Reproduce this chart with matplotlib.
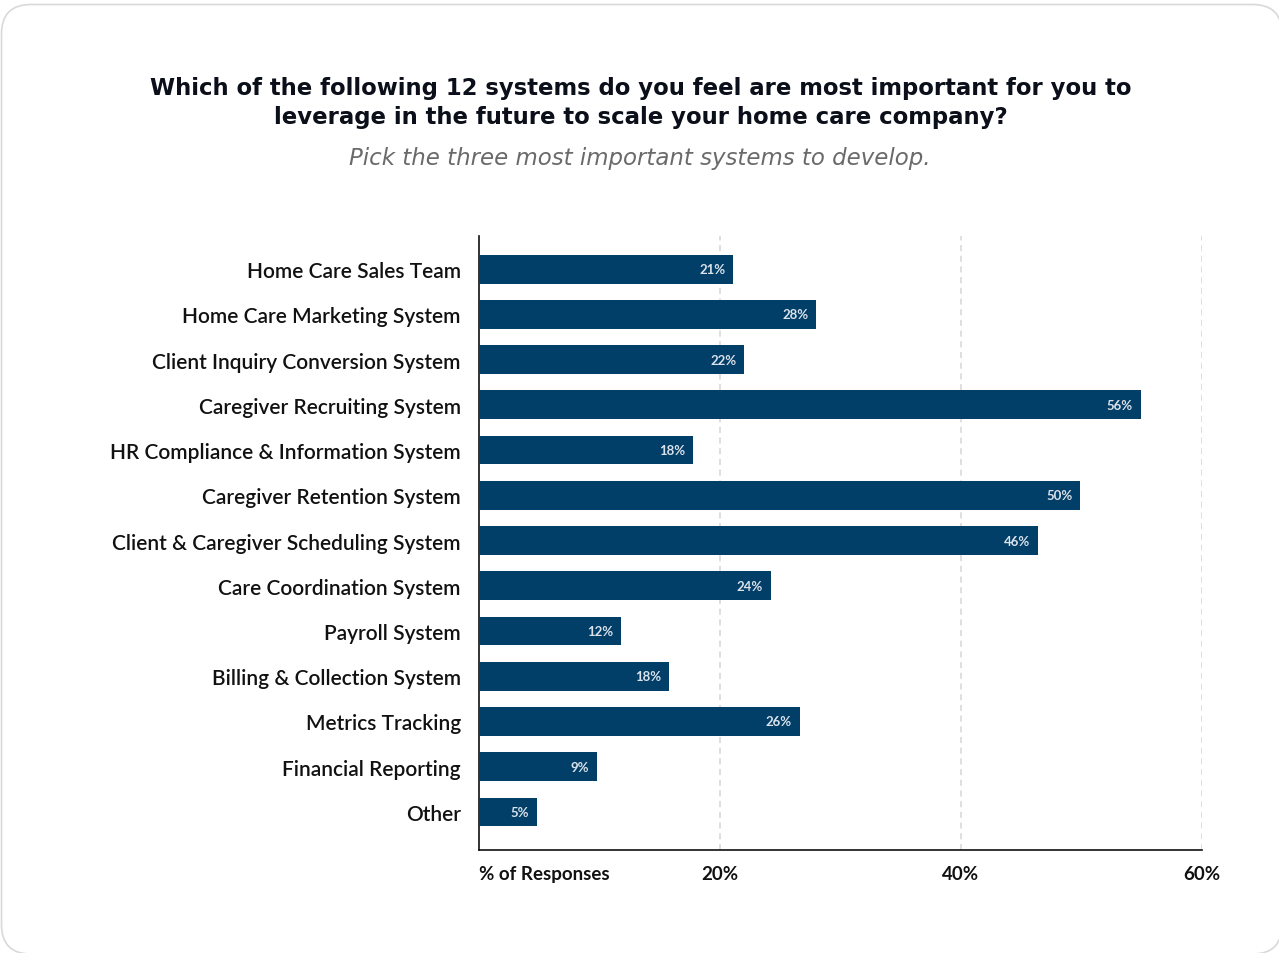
import matplotlib
matplotlib.use("Agg")
import matplotlib.pyplot as plt
from matplotlib.patches import FancyBboxPatch

categories = [
    "Home Care Sales Team",
    "Home Care Marketing System",
    "Client Inquiry Conversion System",
    "Caregiver Recruiting System",
    "HR Compliance & Information System",
    "Caregiver Retention System",
    "Client & Caregiver Scheduling System",
    "Care Coordination System",
    "Payroll System",
    "Billing & Collection System",
    "Metrics Tracking",
    "Financial Reporting",
    "Other",
]
values = [21.1, 28.0, 22.0, 54.9, 17.8, 49.9, 46.4, 24.2, 11.8, 15.8, 26.6, 9.8, 4.8]
value_labels = ["21%", "28%", "22%", "56%", "18%", "50%", "46%", "24%", "12%", "18%", "26%", "9%", "5%"]
x_ticks = [0, 20, 40, 60]
x_tick_labels = ["% of Responses", "20%", "40%", "60%"]

title = ("Which of the following 12 systems do you feel are most important for you to\n"
         "leverage in the future to scale your home care company?")
subtitle = "Pick the three most important systems to develop."

W, H = 1279, 954
fig = plt.figure(figsize=(W / 100, H / 100), dpi=100)
fig.patch.set_facecolor("white")

# rounded card frame (right and bottom edges run off the image)
card = FancyBboxPatch((1.5 / W, -1 / H), (1282 - 1.5) / W, (H - 4.5) / H,
                      boxstyle="round,pad=0,rounding_size=0.023",
                      transform=fig.transFigure, facecolor="white",
                      edgecolor="#d9d9d9", linewidth=1.2, mutation_aspect=W / H,
                      zorder=-5)
fig.patches.append(card)

left, right = 479 / W, 1202 / W
top, bottom = 1 - 237 / H, 1 - 851 / H
ax = fig.add_axes([left, bottom, right - left, top - bottom])
ax.set_facecolor("none")

bar_color = "#013E68"
ypos = list(range(len(categories)))
bars = ax.barh(ypos, values, height=0.64, color=bar_color, zorder=3)
for b, lab in zip(bars, value_labels):
    ax.text(b.get_width() - 0.65, b.get_y() + b.get_height() / 2, lab,
            ha="right", va="center", color="#dbe2ea", fontsize=9.5,
            fontweight="bold", family="Lato", zorder=4)

ax.set_xlim(0, 60)
ax.set_ylim(12.84, -0.73)
ax.set_yticks(ypos)
ax.set_yticklabels(categories, fontsize=15.0, family="Lato", fontweight="semibold",
                   color="#111111")
ax.tick_params(axis="y", length=0, pad=13)
ax.set_xticks(x_ticks)
ax.set_xticklabels(x_tick_labels, fontsize=13.5, family="Lato", fontweight="bold",
                   color="#111111")
ax.tick_params(axis="x", length=0, pad=11)
xl = ax.get_xticklabels()
xl[0].set_ha("left")
xl[-1].set_ha("center")

for x in x_ticks[1:]:
    ax.axvline(x, color="#d6d6d6", linestyle=(0, (4, 3)), linewidth=1.1, zorder=1)

for s in ["top", "right"]:
    ax.spines[s].set_visible(False)
ax.spines["left"].set_color("#111111")
ax.spines["bottom"].set_color("#111111")
ax.spines["left"].set_linewidth(1.2)
ax.spines["bottom"].set_linewidth(1.2)

fig.text(641 / W, 1 - 103 / H, title, ha="center", va="center", fontsize=16.4,
         fontweight="bold", family="DejaVu Sans", color="#0b0f19", linespacing=1.3)
fig.text(640 / W, 1 - 158 / H, subtitle, ha="center", va="center", fontsize=16.5,
         style="italic", family="DejaVu Sans", color="#6a6a6a")

fig.savefig("out.png", dpi=100)
